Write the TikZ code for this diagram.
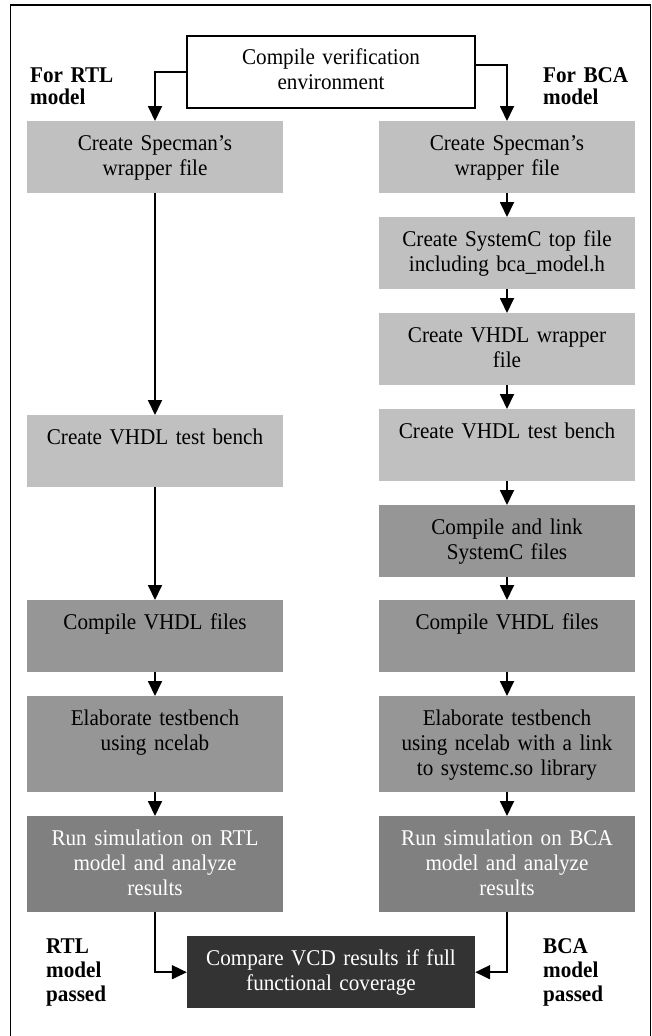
\documentclass[tikz,border=0pt]{standalone}
\usepackage{fontspec}
\setmainfont{Liberation Serif}[FakeStretch=0.94]
\usetikzlibrary{arrows.meta}
\definecolor{lgray}{RGB}{192,192,192}
\definecolor{mgray}{RGB}{150,150,150}
\definecolor{dgray}{RGB}{128,128,128}
\definecolor{xgray}{RGB}{51,51,51}
\begin{document}
\begin{tikzpicture}[x=1bp,y=-1bp,
  flowbox/.style={anchor=north, inner sep=0, text width=256bp, align=center,
    text height=29bp, text depth=43bp, font=\fontsize{22.5bp}{25bp}\selectfont},
  tallbox/.style={flowbox, text depth=67bp},
  sidenote/.style={anchor=base west, inner sep=0, text width=100bp, align=left,
    font=\fontsize{22.5bp}{24bp}\selectfont\bfseries},
  topnote/.style={sidenote, font=\fontsize{22.5bp}{22bp}\selectfont\bfseries},
  arr/.style={line width=1.8bp, -{Triangle[length=15bp,width=14bp]}}]
\useasboundingbox (0,0) rectangle (652,1036);
\draw[line width=1.8bp] (10.5,1036) -- (10.5,5) -- (650.5,5) -- (650.5,1036);
\node[flowbox, draw, fill=white, line width=1.5bp, text width=288bp] (cenv) at (331,35) {Compile verification\\environment};
\node[topnote] (forRTL) at (30,82) {For RTL\\model};
\node[topnote] (forBCA) at (543,82) {For BCA\\model};
% RTL side
\node[flowbox, fill=lgray] (specL) at (155,121) {Create Specman's\\wrapper file};
\node[flowbox, fill=lgray] (tbL) at (155,415) {Create VHDL test bench};
\node[flowbox, fill=mgray] (vhdlL) at (155,600) {Compile VHDL files};
\node[tallbox, fill=mgray] (elabL) at (155,696) {Elaborate testbench\\using ncelab};
\node[tallbox, fill=dgray, text=white] (runL) at (155,816) {Run simulation on RTL\\model and analyze\\results};
\draw[arr] (cenv.west) -| (specL.north);
\draw[arr] (specL) -- (tbL);
\draw[arr] (tbL) -- (vhdlL);
\draw[arr] (vhdlL) -- (elabL);
\draw[arr] (elabL) -- (runL);
% BCA side
\node[flowbox, fill=lgray] (specR) at (507,121) {Create Specman's\\wrapper file};
\node[flowbox, fill=lgray] (sysR) at (507,217) {Create SystemC top file\\including bca\_model.h};
\node[flowbox, fill=lgray] (wrapR) at (507,313) {Create VHDL wrapper\\file};
\node[flowbox, fill=lgray] (tbR) at (507,409) {Create VHDL test bench};
\node[flowbox, fill=mgray] (linkR) at (507,505) {Compile and link\\SystemC files};
\node[flowbox, fill=mgray] (vhdlR) at (507,600) {Compile VHDL files};
\node[tallbox, fill=mgray] (elabR) at (507,696) {Elaborate testbench\\using ncelab with a link\\to systemc.so library};
\node[tallbox, fill=dgray, text=white] (runR) at (507,816) {Run simulation on BCA\\model and analyze\\results};
\draw[arr] ([yshift=7bp]cenv.east) -| (specR.north);
\draw[arr] (specR) -- (sysR);
\draw[arr] (sysR) -- (wrapR);
\draw[arr] (wrapR) -- (tbR);
\draw[arr] (tbR) -- (linkR);
\draw[arr] (linkR) -- (vhdlR);
\draw[arr] (vhdlR) -- (elabR);
\draw[arr] (elabR) -- (runR);
% comparison
\node[flowbox, fill=xgray, text=white, text width=288bp] (cmp) at (331,936) {Compare VCD results if full\\functional coverage};
\node[sidenote] (passRTL) at (46,953) {RTL\\model\\passed};
\node[sidenote] (passBCA) at (543,953) {BCA\\model\\passed};
\draw[arr] (runL.south) |- (cmp.west);
\draw[arr] (runR.south) |- (cmp.east);
\end{tikzpicture}
\end{document}
